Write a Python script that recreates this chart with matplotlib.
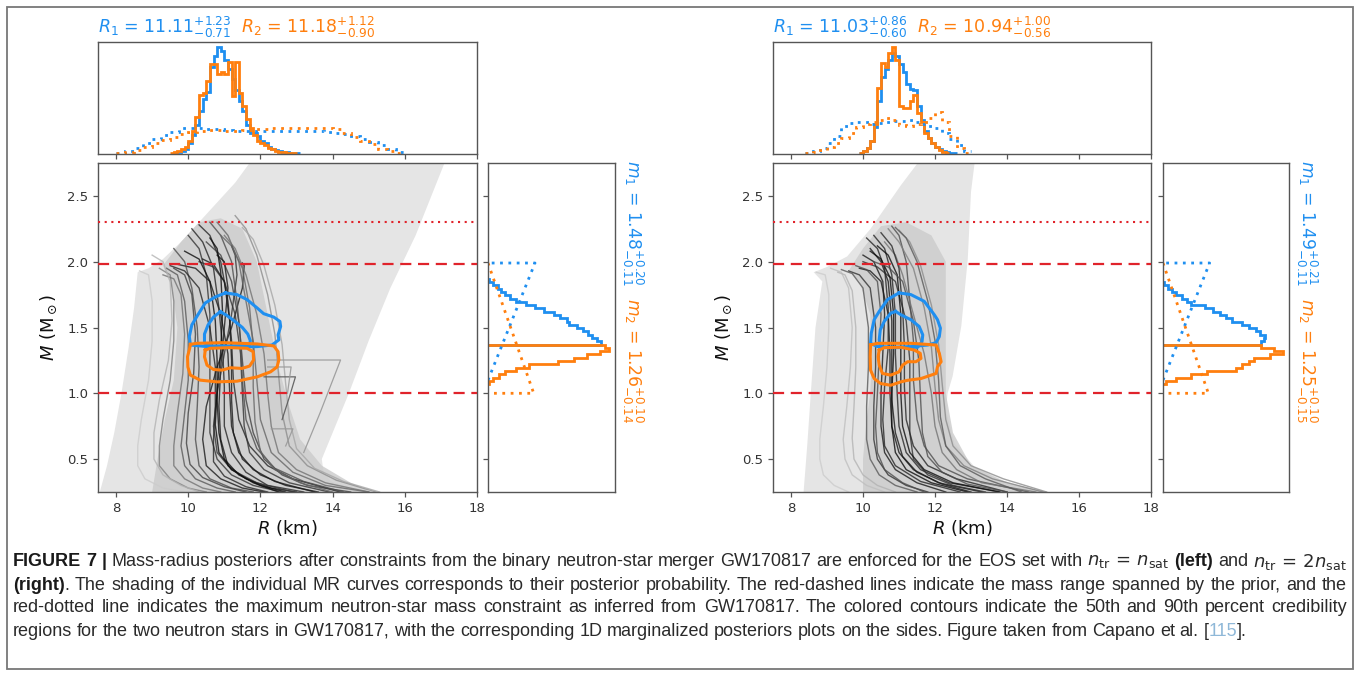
import numpy as np
import matplotlib
matplotlib.use("Agg")
import matplotlib.pyplot as plt
from matplotlib.patches import Rectangle
from matplotlib import font_manager

# ------------------------------------------------------------------ data
BLUE = "#1f8ff0"
ORANGE = "#ff7f0e"
RED = "#e0232b"

M_DASHED = [1.0, 1.98]
M_DOTTED = [2.3]

XTICKS = [8, 10, 12, 14, 16, 18]
YTICKS = [0.5, 1.0, 1.5, 2.0, 2.5]

# ---- left panel (n_tr = n_sat)
LEFT_TITLE_1 = r"$R_1$ = $11.11^{+1.23}_{-0.71}$"
LEFT_TITLE_2 = r"$R_2$ = $11.18^{+1.12}_{-0.90}$"
LEFT_MLAB_1 = r"$m_1$ = $1.48^{+0.20}_{-0.11}$"
LEFT_MLAB_2 = r"$m_2$ = $1.26^{+0.10}_{-0.14}$"

LEFT_LIGHT_R = [7.55, 7.75, 7.95, 8.15, 8.35, 8.5, 8.6, 8.9, 9.3, 9.8, 10.3, 10.8, 11.3, 11.7,
                17.1, 16.3, 15.6, 15.0, 14.45, 14.0, 13.7, 13.75, 13.95, 14.5, 15.15]
LEFT_LIGHT_M = [0.25, 0.45, 0.7, 1.0, 1.35, 1.65, 1.92, 1.95, 2.02, 2.15, 2.3, 2.45, 2.6, 2.75,
                2.75, 2.2, 1.8, 1.4, 1.0, 0.7, 0.5, 0.4, 0.33, 0.28, 0.25]
LEFT_MID_R = [9.0, 9.15, 9.35, 9.6, 9.7, 9.55, 9.3, 9.8, 10.3, 10.9, 11.5, 11.9, 12.2, 12.5,
              12.8, 13.1, 13.7, 14.5, 15.1]
LEFT_MID_M = [0.25, 0.5, 0.8, 1.1, 1.5, 1.8, 1.97, 2.15, 2.3, 2.33, 2.25, 2.0, 1.6, 1.2,
              0.9, 0.65, 0.45, 0.32, 0.25]

LEFT_CURVE_M = [
    [2.28, 2.2, 2.0, 1.7, 1.4, 1.1, 0.8, 0.6, 0.45, 0.35, 0.25],
    [1.98, 1.95, 1.85, 1.6, 1.3, 1.0, 0.75, 0.55, 0.42, 0.33, 0.25],
    [2.2, 2.1, 1.9, 1.6, 1.3, 1.0, 0.7, 0.5, 0.38, 0.3, 0.25],
    [2.1, 2.0, 1.8, 1.5, 1.2, 0.9, 0.65, 0.45, 0.35, 0.28, 0.25],
    [1.99, 1.97, 1.8, 1.5, 1.2, 0.9, 0.65, 0.45, 0.35, 0.28, 0.25],
    [2.15, 2.05, 1.85, 1.55, 1.25, 0.95, 0.7, 0.5, 0.38, 0.3, 0.25],
    [2.3, 2.2, 2.0, 1.7, 1.4, 1.1, 0.8, 0.55, 0.4, 0.3, 0.25],
    [1.95, 1.9, 1.7, 1.4, 1.1, 0.85, 0.6, 0.45, 0.35, 0.28, 0.25],
    [2.05, 2.0, 1.8, 1.5, 1.2, 0.9, 0.65, 0.45, 0.35, 0.28, 0.25],
    [2.25, 2.15, 1.95, 1.65, 1.35, 1.05, 0.75, 0.55, 0.4, 0.3, 0.25],
    [1.95, 1.9, 1.7, 1.4, 1.1, 0.8, 0.6, 0.45, 0.35, 0.28, 0.25],
    [2.2, 2.1, 1.9, 1.6, 1.3, 1.0, 0.75, 0.55, 0.42, 0.32, 0.25],
    [2.0, 1.96, 1.85, 1.6, 1.3, 1.0, 0.75, 0.55, 0.42, 0.32, 0.25],
    [2.12, 2.05, 1.9, 1.6, 1.3, 1.0, 0.75, 0.55, 0.42, 0.32, 0.25],
    [1.97, 1.93, 1.8, 1.5, 1.2, 0.9, 0.65, 0.48, 0.37, 0.29, 0.25],
    [2.35, 2.25, 2.05, 1.75, 1.45, 1.15, 0.85, 0.6, 0.45, 0.34, 0.25],
    [1.93, 1.9, 1.7, 1.4, 1.1, 0.8, 0.6, 0.45, 0.35, 0.28, 0.25],
    [2.08, 2.02, 1.85, 1.55, 1.25, 0.95, 0.7, 0.5, 0.38, 0.3, 0.25],
    [2.18, 2.1, 1.92, 1.62, 1.32, 1.02, 0.76, 0.55, 0.42, 0.32, 0.25],
    [2.02, 1.98, 1.85, 1.55, 1.25, 0.95, 0.7, 0.5, 0.38, 0.3, 0.25],
    [1.9, 1.87, 1.75, 1.45, 1.15, 0.85, 0.6, 0.45, 0.35, 0.28, 0.25],
    [2.3, 2.2, 2.0, 1.7, 1.4, 1.1, 0.8, 0.58, 0.43, 0.33, 0.25],
    [2.2, 2.12, 1.95, 1.65, 1.35, 1.05, 0.78, 0.56, 0.42, 0.32, 0.25],
    [1.95, 1.9, 1.75, 1.45, 1.15, 0.85, 0.62, 0.46, 0.36, 0.29, 0.25],
    [2.26, 2.17, 1.97, 1.67, 1.37, 1.07, 0.8, 0.58, 0.43, 0.33, 0.25],
    [2.05, 2.0, 1.85, 1.55, 1.25, 0.95, 0.7, 0.5, 0.38, 0.3, 0.25],
]
LEFT_CURVE_R = [
    [10.3, 10.6, 10.9, 11.1, 11.2, 11.25, 11.4, 11.7, 12.2, 12.9, 14.2],
    [9.7, 10.2, 10.6, 10.9, 11.1, 11.15, 11.2, 11.4, 11.8, 12.4, 13.5],
    [10.0, 10.3, 10.5, 10.6, 10.6, 10.6, 10.6, 10.8, 11.2, 11.8, 12.6],
    [9.6, 9.9, 10.1, 10.25, 10.3, 10.25, 10.2, 10.3, 10.6, 11.2, 11.8],
    [11.5, 11.55, 11.5, 11.2, 10.8, 10.5, 10.4, 10.5, 10.9, 11.5, 12.1],
    [10.5, 10.9, 11.2, 11.4, 11.5, 11.6, 11.8, 12.1, 12.6, 13.3, 14.5],
    [10.8, 11.1, 11.4, 11.6, 11.8, 11.9, 12.0, 12.3, 12.9, 13.8, 15.0],
    [9.4, 9.7, 9.9, 10.0, 10.0, 9.9, 9.8, 9.9, 10.2, 10.8, 11.3],
    [10.8, 11.0, 11.1, 11.0, 10.9, 10.85, 10.9, 11.1, 11.6, 12.3, 13.0],
    [10.1, 10.4, 10.7, 10.85, 10.95, 11.0, 11.0, 11.2, 11.6, 12.2, 13.2],
    [9.2, 9.5, 9.6, 9.6, 9.5, 9.3, 9.2, 9.2, 9.5, 10.0, 10.5],
    [11.0, 11.3, 11.6, 11.9, 12.1, 12.2, 12.3, 12.5, 13.0, 13.8, 15.0],
    [10.3, 10.7, 11.0, 11.3, 11.45, 11.5, 11.55, 11.7, 12.1, 12.8, 13.9],
    [11.2, 11.3, 11.35, 11.2, 11.0, 10.8, 10.7, 10.8, 11.2, 11.9, 12.9],
    [9.5, 9.9, 10.3, 10.6, 10.75, 10.75, 10.7, 10.7, 11.0, 11.6, 12.2],
    [11.3, 11.6, 11.9, 12.2, 12.4, 12.5, 12.6, 12.8, 13.3, 14.1, 15.2],
    [8.65, 8.9, 9.0, 9.0, 8.9, 8.7, 8.6, 8.6, 8.8, 9.3, 9.9],
    [9.9, 10.3, 10.6, 10.75, 10.8, 10.8, 10.85, 11.0, 11.4, 12.0, 12.7],
    [10.6, 10.8, 10.9, 10.95, 10.9, 10.8, 10.75, 10.85, 11.2, 11.8, 12.5],
    [10.4, 10.7, 11.0, 11.15, 11.2, 11.2, 11.25, 11.5, 12.0, 12.7, 13.6],
    [9.3, 9.6, 9.8, 9.9, 9.85, 9.7, 9.6, 9.6, 9.9, 10.4, 10.9],
    [10.6, 10.9, 11.2, 11.35, 11.45, 11.5, 11.6, 11.9, 12.4, 13.2, 14.3],
    [10.9, 11.2, 11.5, 11.7, 11.8, 11.8, 11.85, 12.0, 12.4, 13.1, 14.0],
    [9.6, 9.9, 10.1, 10.2, 10.15, 10.0, 9.95, 10.05, 10.4, 11.0, 11.6],
    [11.5, 11.8, 12.1, 12.4, 12.6, 12.7, 12.8, 13.0, 13.5, 14.3, 15.3],
    [9.0, 9.3, 9.5, 9.55, 9.45, 9.2, 9.05, 9.05, 9.3, 9.8, 10.3],
]
LEFT_CURVE_SHADE = [0.15, 0.1, 0.2, 0.3, 0.1, 0.25, 0.4, 0.35, 0.1, 0.15, 0.5, 0.45, 0.2,
                    0.2, 0.15, 0.55, 0.8, 0.05, 0.05, 0.1, 0.45, 0.3, 0.4, 0.25, 0.65, 0.7]

LEFT_STEP_R = [[12.2, 14.22, 13.65, 13.2], [12.1, 12.97, 12.8, 12.6],
               [12.2, 12.85, 12.75], [12.3, 12.9, 12.7]]
LEFT_STEP_M = [[1.253, 1.253, 0.85, 0.55], [1.125, 1.125, 0.97, 0.8],
               [1.2, 1.2, 1.0], [0.73, 0.73, 0.6]]
LEFT_STEP_SHADE = [0.6, 0.35, 0.6, 0.6]

LEFT_BLUE90_R = [11.03, 11.35, 11.63, 11.91, 12.09, 12.37, 12.54, 12.56, 12.49, 12.51, 12.32,
                 11.91, 11.17, 10.52, 10.06, 10.03, 10.10, 10.24, 10.47, 10.75, 11.03]
LEFT_BLUE90_M = [1.763, 1.75, 1.712, 1.648, 1.605, 1.579, 1.546, 1.508, 1.444, 1.406, 1.367,
                 1.355, 1.35, 1.355, 1.367, 1.431, 1.52, 1.584, 1.686, 1.732, 1.763]
LEFT_BLUE50_R = [10.89, 11.05, 11.3, 11.5, 11.65, 11.72, 11.7, 11.2, 10.6, 10.45, 10.45, 10.55,
                 10.7, 10.89]
LEFT_BLUE50_M = [1.62, 1.595, 1.545, 1.5, 1.45, 1.4, 1.365, 1.36, 1.36, 1.38, 1.45, 1.52,
                 1.58, 1.62]
LEFT_ORANGE90_R = [10.06, 10.24, 10.98, 11.91, 12.37, 12.49, 12.51, 12.46, 12.28, 11.91, 11.35,
                   10.80, 10.33, 10.06, 9.99, 9.98, 10.04, 10.06]
LEFT_ORANGE90_M = [1.372, 1.38, 1.385, 1.375, 1.36, 1.316, 1.253, 1.20, 1.163, 1.125, 1.092,
                   1.087, 1.10, 1.138, 1.20, 1.278, 1.342, 1.372]
LEFT_ORANGE50_R = [10.47, 10.61, 11.17, 11.63, 11.80, 11.81, 11.70, 11.49, 11.17, 10.94, 10.70,
                   10.52, 10.45, 10.47]
LEFT_ORANGE50_M = [1.329, 1.342, 1.347, 1.342, 1.316, 1.253, 1.207, 1.189, 1.194, 1.176, 1.181,
                   1.214, 1.278, 1.329]

LEFT_R1_START, LEFT_R1_WIDTH = 9.6, 0.1
LEFT_R1_HIST = [0.01, 0.02, 0.03, 0.05, 0.10, 0.18, 0.27, 0.40, 0.52, 0.58, 0.82, 0.92, 1.00,
                0.97, 0.88, 0.80, 0.70, 0.60, 0.50, 0.40, 0.27, 0.20, 0.20, 0.17, 0.12, 0.10,
                0.07, 0.05, 0.04, 0.03, 0.02, 0.02, 0.01, 0.01, 0.005]
LEFT_R2_START, LEFT_R2_WIDTH = 9.5, 0.1
LEFT_R2_HIST = [0.01, 0.02, 0.03, 0.05, 0.07, 0.12, 0.22, 0.35, 0.55, 0.57, 0.68, 0.84, 0.84,
                0.75, 0.77, 0.75, 0.86, 0.54, 0.86, 0.57, 0.45, 0.33, 0.24, 0.18, 0.12, 0.10,
                0.08, 0.06, 0.05, 0.03, 0.02, 0.02, 0.01, 0.01, 0.005]
LEFT_PRIOR_START, LEFT_PRIOR_WIDTH = 8.0, 0.25
LEFT_R1_PRIOR = [0.01, 0.03, 0.06, 0.10, 0.14, 0.18, 0.21, 0.24, 0.245, 0.24, 0.235, 0.23,
                 0.225, 0.22, 0.215, 0.215, 0.215, 0.215, 0.215, 0.215, 0.215, 0.215, 0.215,
                 0.21, 0.20, 0.19, 0.17, 0.14, 0.11, 0.08, 0.05, 0.02]
LEFT_R2_PRIOR = [0.005, 0.02, 0.04, 0.07, 0.10, 0.13, 0.16, 0.19, 0.21, 0.22, 0.225, 0.225,
                 0.22, 0.22, 0.225, 0.23, 0.235, 0.24, 0.245, 0.245, 0.245, 0.245, 0.245, 0.24,
                 0.23, 0.20, 0.16, 0.12, 0.09, 0.05, 0.025, 0.005]

LEFT_M1_START, LEFT_M_WIDTH = 1.37, 0.025
LEFT_M1_HIST = [0.89, 0.86, 0.82, 0.79, 0.75, 0.70, 0.64, 0.62, 0.57, 0.52, 0.44, 0.37, 0.30,
                0.22, 0.17, 0.13, 0.10, 0.08, 0.04, 0.01]
LEFT_M2_START = 1.07
LEFT_M2_HIST = [0.01, 0.04, 0.09, 0.13, 0.22, 0.32, 0.55, 0.68, 0.78, 0.88, 0.955, 0.92]

# ---- right panel (n_tr = 2 n_sat)
RIGHT_TITLE_1 = r"$R_1$ = $11.03^{+0.86}_{-0.60}$"
RIGHT_TITLE_2 = r"$R_2$ = $10.94^{+1.00}_{-0.56}$"
RIGHT_MLAB_1 = r"$m_1$ = $1.49^{+0.21}_{-0.11}$"
RIGHT_MLAB_2 = r"$m_2$ = $1.25^{+0.10}_{-0.15}$"

RIGHT_LIGHT_R = [8.35, 8.45, 8.55, 8.68, 8.87, 8.63, 9.0, 9.56, 10.21, 11.05, 11.52, 13.1,
                 13.0, 12.91, 12.73, 12.49, 12.35, 12.3, 12.54, 13.1, 14.12, 15.14]
RIGHT_LIGHT_M = [0.25, 0.6, 1.0, 1.5, 1.85, 1.92, 1.96, 2.04, 2.25, 2.58, 2.75, 2.75,
                 2.53, 2.02, 1.51, 1.13, 1.0, 0.87, 0.62, 0.44, 0.31, 0.25]
RIGHT_MID_R = [10.0, 10.0, 10.1, 10.2, 10.25, 10.2, 9.9, 9.6, 10.0, 10.5, 11.2, 11.9, 12.3,
               12.3, 12.3, 12.5, 13.0, 14.0, 15.1]
RIGHT_MID_M = [0.25, 0.5, 0.8, 1.0, 1.3, 1.6, 1.85, 1.93, 2.1, 2.27, 2.3, 2.2, 2.0,
               1.5, 1.0, 0.7, 0.45, 0.32, 0.25]

RIGHT_CURVE_M = [
    [1.95, 1.93, 1.85, 1.6, 1.3, 1.0, 0.75, 0.55, 0.42, 0.32, 0.25],
    [2.2, 2.1, 1.9, 1.6, 1.3, 1.0, 0.75, 0.55, 0.42, 0.32, 0.25],
    [2.05, 2.0, 1.85, 1.6, 1.3, 1.0, 0.75, 0.55, 0.42, 0.32, 0.25],
    [2.27, 2.2, 2.0, 1.7, 1.4, 1.1, 0.8, 0.6, 0.45, 0.35, 0.25],
    [1.93, 1.9, 1.8, 1.5, 1.2, 0.9, 0.65, 0.5, 0.38, 0.3, 0.25],
    [2.15, 2.05, 1.9, 1.6, 1.3, 1.0, 0.75, 0.55, 0.42, 0.32, 0.25],
    [2.1, 2.0, 1.85, 1.55, 1.25, 0.95, 0.7, 0.52, 0.4, 0.31, 0.25],
    [2.25, 2.15, 1.95, 1.65, 1.35, 1.05, 0.8, 0.6, 0.45, 0.35, 0.25],
    [2.0, 1.96, 1.85, 1.55, 1.25, 0.95, 0.7, 0.5, 0.38, 0.3, 0.25],
    [2.18, 2.1, 1.95, 1.65, 1.35, 1.05, 0.8, 0.6, 0.45, 0.33, 0.25],
    [1.97, 1.94, 1.85, 1.6, 1.3, 1.0, 0.75, 0.55, 0.42, 0.32, 0.25],
    [2.22, 2.12, 1.95, 1.65, 1.35, 1.05, 0.8, 0.6, 0.45, 0.35, 0.25],
    [1.92, 1.9, 1.75, 1.5, 1.2, 0.9, 0.65, 0.5, 0.38, 0.3, 0.25],
    [1.95, 1.92, 1.8, 1.5, 1.2, 0.9, 0.65, 0.5, 0.38, 0.3, 0.25],
    [2.08, 2.02, 1.88, 1.6, 1.3, 1.0, 0.75, 0.55, 0.42, 0.32, 0.25],
    [2.12, 2.05, 1.9, 1.6, 1.3, 1.0, 0.75, 0.55, 0.42, 0.32, 0.25],
    [2.24, 2.15, 1.97, 1.67, 1.37, 1.07, 0.8, 0.6, 0.45, 0.35, 0.25],
    [1.94, 1.91, 1.8, 1.5, 1.2, 0.9, 0.65, 0.5, 0.38, 0.3, 0.25],
    [2.0, 1.96, 1.85, 1.55, 1.25, 0.95, 0.7, 0.52, 0.4, 0.31, 0.25],
    [1.92, 1.9, 1.78, 1.5, 1.2, 0.9, 0.66, 0.5, 0.38, 0.3, 0.25],
    [2.26, 2.18, 2.0, 1.7, 1.4, 1.1, 0.82, 0.6, 0.45, 0.35, 0.25],
]
RIGHT_CURVE_R = [
    [9.9, 10.2, 10.5, 10.7, 10.75, 10.75, 10.8, 11.0, 11.4, 12.1, 13.3],
    [10.3, 10.6, 10.8, 10.9, 10.9, 10.95, 11.0, 11.2, 11.6, 12.4, 13.8],
    [10.0, 10.3, 10.55, 10.6, 10.55, 10.5, 10.5, 10.6, 10.9, 11.5, 12.3],
    [10.8, 11.0, 11.2, 11.3, 11.4, 11.4, 11.5, 11.7, 12.1, 12.9, 14.6],
    [9.6, 9.9, 10.2, 10.35, 10.35, 10.3, 10.3, 10.4, 10.7, 11.2, 11.8],
    [10.6, 10.9, 11.1, 11.4, 11.7, 11.9, 12.0, 12.2, 12.6, 13.3, 14.8],
    [10.2, 10.5, 10.7, 10.8, 10.8, 10.8, 10.9, 11.1, 11.5, 12.2, 13.0],
    [10.7, 11.0, 11.4, 11.7, 11.9, 12.0, 12.1, 12.3, 12.8, 13.6, 15.0],
    [10.0, 10.4, 10.9, 11.2, 11.3, 11.3, 11.3, 11.4, 11.8, 12.5, 13.4],
    [10.1, 10.4, 10.6, 10.7, 10.7, 10.6, 10.55, 10.6, 10.9, 11.6, 12.7],
    [9.8, 10.1, 10.4, 10.5, 10.45, 10.4, 10.35, 10.4, 10.6, 11.1, 11.7],
    [10.5, 10.8, 11.0, 11.1, 11.15, 11.15, 11.2, 11.4, 11.8, 12.6, 14.0],
    [8.7, 8.95, 9.05, 9.05, 9.0, 8.9, 8.8, 8.8, 8.9, 9.2, 9.6],
    [9.1, 9.4, 9.6, 9.7, 9.65, 9.55, 9.45, 9.5, 9.7, 10.1, 10.6],
    [10.2, 10.5, 10.75, 10.85, 10.85, 10.8, 10.8, 10.9, 11.2, 11.9, 12.9],
    [10.4, 10.7, 10.95, 11.05, 11.05, 11.05, 11.1, 11.3, 11.7, 12.5, 13.8],
    [11.0, 11.3, 11.6, 11.9, 12.1, 12.2, 12.3, 12.5, 13.0, 13.9, 15.1],
    [9.4, 9.7, 10.0, 10.15, 10.15, 10.1, 10.1, 10.2, 10.45, 10.9, 11.5],
    [10.3, 10.7, 11.1, 11.4, 11.55, 11.6, 11.65, 11.8, 12.2, 12.9, 14.0],
    [9.3, 9.5, 9.7, 9.8, 9.8, 9.75, 9.7, 9.75, 10.0, 10.4, 10.9],
    [10.9, 11.2, 11.5, 11.8, 12.0, 12.1, 12.15, 12.3, 12.7, 13.4, 14.4],
]
RIGHT_CURVE_SHADE = [0.1, 0.15, 0.1, 0.3, 0.2, 0.45, 0.1, 0.5, 0.2, 0.15, 0.3, 0.15, 0.8, 0.75,
                     0.05, 0.05, 0.55, 0.35, 0.3, 0.7, 0.35]

RIGHT_BLUE90_R = [11.0, 11.33, 11.70, 11.84, 11.98, 12.07, 12.15, 12.12, 12.03, 11.80, 11.33,
                  10.87, 10.40, 10.21, 10.23, 10.31, 10.45, 10.68, 11.0]
RIGHT_BLUE90_M = [1.763, 1.75, 1.699, 1.648, 1.597, 1.559, 1.495, 1.431, 1.385, 1.367, 1.355,
                  1.35, 1.355, 1.38, 1.457, 1.559, 1.622, 1.712, 1.763]
RIGHT_BLUE50_R = [10.91, 11.05, 11.33, 11.56, 11.66, 11.64, 11.52, 10.87, 10.49, 10.45, 10.48,
                  10.59, 10.77, 10.91]
RIGHT_BLUE50_M = [1.622, 1.597, 1.559, 1.508, 1.444, 1.393, 1.35, 1.347, 1.35, 1.406, 1.482,
                  1.546, 1.609, 1.622]
RIGHT_ORANGE90_R = [10.21, 10.40, 11.33, 12.03, 12.12, 12.17, 12.07, 12.03, 11.61, 11.24, 11.05,
                    10.77, 10.49, 10.31, 10.21, 10.20, 10.21]
RIGHT_ORANGE90_M = [1.367, 1.38, 1.38, 1.367, 1.304, 1.24, 1.202, 1.151, 1.112, 1.099, 1.087,
                    1.061, 1.074, 1.112, 1.176, 1.278, 1.367]
RIGHT_ORANGE50_R = [10.45, 10.59, 11.05, 11.42, 11.59, 11.61, 11.47, 11.24, 11.10, 11.0, 10.77,
                    10.54, 10.45, 10.42, 10.45]
RIGHT_ORANGE50_M = [1.329, 1.347, 1.35, 1.329, 1.304, 1.265, 1.24, 1.24, 1.214, 1.163, 1.138,
                    1.151, 1.214, 1.278, 1.329]

RIGHT_R1_START, RIGHT_R1_WIDTH = 9.9, 0.1
RIGHT_R1_HIST = [0.01, 0.03, 0.06, 0.12, 0.25, 0.50, 0.72, 0.80, 0.88, 0.95, 0.92, 0.84, 0.77,
                 0.66, 0.61, 0.60, 0.45, 0.32, 0.22, 0.15, 0.10, 0.07, 0.05, 0.03, 0.02, 0.01,
                 0.005]
RIGHT_R2_START, RIGHT_R2_WIDTH = 9.9, 0.1
RIGHT_R2_HIST = [0.01, 0.03, 0.06, 0.12, 0.28, 0.62, 0.85, 0.82, 0.95, 1.0, 0.88, 0.45, 0.43,
                 0.43, 0.50, 0.55, 0.38, 0.30, 0.20, 0.15, 0.10, 0.07, 0.04, 0.02, 0.01]
RIGHT_PRIOR_START, RIGHT_PRIOR_WIDTH = 8.4, 0.2
RIGHT_R1_PRIOR = [0.01, 0.03, 0.06, 0.10, 0.17, 0.26, 0.29, 0.30, 0.30, 0.28, 0.29, 0.30, 0.31,
                  0.31, 0.32, 0.30, 0.28, 0.26, 0.24, 0.20, 0.14, 0.08, 0.03]
RIGHT_R2_PRIOR = [0.005, 0.02, 0.04, 0.07, 0.10, 0.15, 0.20, 0.25, 0.28, 0.30, 0.32, 0.34, 0.32,
                  0.27, 0.26, 0.28, 0.30, 0.34, 0.39, 0.30, 0.17, 0.06, 0.01]

RIGHT_M1_START, RIGHT_M_WIDTH = 1.37, 0.025
RIGHT_M1_HIST = [0.78, 0.80, 0.81, 0.77, 0.74, 0.68, 0.63, 0.55, 0.50, 0.45, 0.40, 0.33, 0.22,
                 0.19, 0.15, 0.10, 0.07, 0.04, 0.01]
RIGHT_M2_START = 1.07
RIGHT_M2_HIST = [0.02, 0.10, 0.22, 0.35, 0.58, 0.63, 0.68, 0.72, 0.85, 0.95, 0.88, 0.78]

# mass priors in the side panels (triangular, drawn as dotted outlines)
PRIOR_M1_M = [1.1, 1.99, 1.99]
PRIOR_M1_X = [0.0, 0.37, 0.0]
PRIOR_M2_M = [1.99, 1.0, 1.0]
PRIOR_M2_X = [0.0, 0.36, 0.0]

CAPTION_LINES = [
    ([("FIGURE", "b"), ("7", "b"), ("|", "b"), ("Mass-radius", "n"), ("posteriors", "n"),
      ("after", "n"), ("constraints", "n"), ("from", "n"), ("the", "n"), ("binary", "n"),
      ("neutron-star", "n"), ("merger", "n"), ("GW170817", "n"), ("are", "n"), ("enforced", "n"),
      ("for", "n"), ("the", "n"), ("EOS", "n"), ("set", "n"), ("with", "n"),
      (r"$n_{\mathrm{tr}}\,=\,n_{\mathrm{sat}}$", "n"), ("(left)", "b"), ("and", "n"),
      (r"$n_{\mathrm{tr}}\,=\,2n_{\mathrm{sat}}$", "n")], True),
    ([("(right)", "b"), (".", "g"), ("The", "n"), ("shading", "n"), ("of", "n"), ("the", "n"),
      ("individual", "n"), ("MR", "n"), ("curves", "n"), ("corresponds", "n"), ("to", "n"),
      ("their", "n"), ("posterior", "n"), ("probability.", "n"), ("The", "n"), ("red-dashed", "n"),
      ("lines", "n"), ("indicate", "n"), ("the", "n"), ("mass", "n"), ("range", "n"),
      ("spanned", "n"), ("by", "n"), ("the", "n"), ("prior,", "n"), ("and", "n"), ("the", "n")], True),
    ([("red-dotted", "n"), ("line", "n"), ("indicates", "n"), ("the", "n"), ("maximum", "n"),
      ("neutron-star", "n"), ("mass", "n"), ("constraint", "n"), ("as", "n"), ("inferred", "n"),
      ("from", "n"), ("GW170817.", "n"), ("The", "n"), ("colored", "n"), ("contours", "n"),
      ("indicate", "n"), ("the", "n"), ("50th", "n"), ("and", "n"), ("90th", "n"),
      ("percent", "n"), ("credibility", "n")], True),
    ([("regions", "n"), ("for", "n"), ("the", "n"), ("two", "n"), ("neutron", "n"), ("stars", "n"),
      ("in", "n"), ("GW170817,", "n"), ("with", "n"), ("the", "n"), ("corresponding", "n"),
      ("1D", "n"), ("marginalized", "n"), ("posteriors", "n"), ("plots", "n"), ("on", "n"),
      ("the", "n"), ("sides.", "n"), ("Figure", "n"), ("taken", "n"), ("from", "n"),
      ("Capano", "n"), ("et", "n"), ("al.", "n"), ("[", "n"), ("115", "l"), ("].", "g")], False),
]

# ------------------------------------------------------------------ figure
W, H = 1360, 675
plt.rcParams["mathtext.fontset"] = "dejavusans"
fig = plt.figure(figsize=(W / 100, H / 100), dpi=100)
renderer = fig.canvas.get_renderer()

SPINE = "#555555"
TICKC = "#333333"


def px_axes(x0, y0, x1, y1):
    return fig.add_axes([x0 / W, 1 - y1 / H, (x1 - x0) / W, (y1 - y0) / H])


def style_axes(ax):
    for s in ax.spines.values():
        s.set_color(SPINE)
        s.set_linewidth(1.0)
    ax.tick_params(colors=SPINE, labelcolor=TICKC, labelsize=9.5, length=3.5, width=0.9)


def draw_main(ax, light, mid, curves_m, curves_r, shades, steps, contours):
    ax.fill(light[0], light[1], color="#e5e5e5", lw=0, zorder=1)
    ax.fill(mid[0], mid[1], color="#cbcbcb", lw=0, alpha=0.8, zorder=1.2)
    for mm, rr, sh in zip(curves_m, curves_r, shades):
        ax.plot(rr, mm, color=str(sh), lw=1.0, alpha=0.8, zorder=2)
    if steps is not None:
        for rr, mm, sh in zip(*steps):
            ax.plot(rr, mm, color=str(sh), lw=0.9, alpha=0.9, zorder=2)
    for y in M_DASHED:
        ax.axhline(y, color=RED, lw=1.6, ls=(0, (5, 3)), zorder=3)
    for y in M_DOTTED:
        ax.axhline(y, color=RED, lw=1.5, ls=(0, (1, 2.2)), zorder=3)
    for (rr, mm), c in contours:
        ax.plot(rr, mm, color=c, lw=2.2, zorder=4, solid_joinstyle="round")
    ax.set_xlim(7.5, 18)
    ax.set_ylim(0.25, 2.75)
    ax.set_xticks(XTICKS)
    ax.set_yticks(YTICKS)
    style_axes(ax)
    ax.set_xlabel(r"$R$ (km)", fontsize=13, labelpad=2, color="#111111")


def draw_top(ax, h1, h2, p1, p2):
    for (start, width, vals), c in ((h1, BLUE), (h2, ORANGE)):
        edges = start + width * np.arange(len(vals) + 1)
        ax.stairs(vals, edges, color=c, lw=2.0, baseline=None)
    for (start, width, vals), c in ((p1, BLUE), (p2, ORANGE)):
        edges = start + width * np.arange(len(vals) + 1)
        ax.stairs(vals, edges, color=c, lw=2.0, ls=(0, (1, 2)), baseline=None)
    ax.set_xlim(7.5, 18)
    ax.set_ylim(0, 1.05)
    ax.set_xticks(XTICKS)
    ax.set_xticklabels([])
    ax.set_yticks([])
    style_axes(ax)


def draw_side(ax, h1, h2):
    (s1, w, v1), (s2, v2) = h1, h2
    ax.stairs(v1, s1 + w * np.arange(len(v1) + 1), orientation="horizontal",
              color=BLUE, lw=2.0, baseline=0)
    ax.stairs(v2, s2 + w * np.arange(len(v2) + 1), orientation="horizontal",
              color=ORANGE, lw=2.0, baseline=0)
    ax.plot(PRIOR_M1_X, PRIOR_M1_M, color=BLUE, lw=2.0, ls=(0, (1, 2)))
    ax.plot(PRIOR_M2_X, PRIOR_M2_M, color=ORANGE, lw=2.0, ls=(0, (1, 2)))
    ax.set_ylim(0.25, 2.75)
    ax.set_xlim(0, 1.0)
    ax.set_yticks(YTICKS)
    ax.set_yticklabels([])
    ax.set_xticks([])
    style_axes(ax)


# ---------------- left panel
axL = px_axes(98, 163, 477, 492)
draw_main(axL, (LEFT_LIGHT_R, LEFT_LIGHT_M), (LEFT_MID_R, LEFT_MID_M),
          LEFT_CURVE_M, LEFT_CURVE_R, LEFT_CURVE_SHADE,
          (LEFT_STEP_R, LEFT_STEP_M, LEFT_STEP_SHADE),
          [((LEFT_BLUE90_R, LEFT_BLUE90_M), BLUE), ((LEFT_BLUE50_R, LEFT_BLUE50_M), BLUE),
           ((LEFT_ORANGE90_R, LEFT_ORANGE90_M), ORANGE),
           ((LEFT_ORANGE50_R, LEFT_ORANGE50_M), ORANGE)])
axL.set_ylabel(r"$M$ (M$_\odot$)", fontsize=13, labelpad=6, color="#111111")

axLt = px_axes(98, 42, 477, 154)
draw_top(axLt, (LEFT_R1_START, LEFT_R1_WIDTH, LEFT_R1_HIST),
         (LEFT_R2_START, LEFT_R2_WIDTH, LEFT_R2_HIST),
         (LEFT_PRIOR_START, LEFT_PRIOR_WIDTH, LEFT_R1_PRIOR),
         (LEFT_PRIOR_START, LEFT_PRIOR_WIDTH, LEFT_R2_PRIOR))

axLs = px_axes(488, 163, 615, 492)
draw_side(axLs, (LEFT_M1_START, LEFT_M_WIDTH, LEFT_M1_HIST), (LEFT_M2_START, LEFT_M2_HIST))

# ---------------- right panel
axR = px_axes(773, 163, 1151, 492)
draw_main(axR, (RIGHT_LIGHT_R, RIGHT_LIGHT_M), (RIGHT_MID_R, RIGHT_MID_M),
          RIGHT_CURVE_M, RIGHT_CURVE_R, RIGHT_CURVE_SHADE, None,
          [((RIGHT_BLUE90_R, RIGHT_BLUE90_M), BLUE), ((RIGHT_BLUE50_R, RIGHT_BLUE50_M), BLUE),
           ((RIGHT_ORANGE90_R, RIGHT_ORANGE90_M), ORANGE),
           ((RIGHT_ORANGE50_R, RIGHT_ORANGE50_M), ORANGE)])
axR.set_ylabel(r"$M$ (M$_\odot$)", fontsize=13, labelpad=6, color="#111111")

axRt = px_axes(773, 42, 1151, 154)
draw_top(axRt, (RIGHT_R1_START, RIGHT_R1_WIDTH, RIGHT_R1_HIST),
         (RIGHT_R2_START, RIGHT_R2_WIDTH, RIGHT_R2_HIST),
         (RIGHT_PRIOR_START, RIGHT_PRIOR_WIDTH, RIGHT_R1_PRIOR),
         (RIGHT_PRIOR_START, RIGHT_PRIOR_WIDTH, RIGHT_R2_PRIOR))

axRs = px_axes(1163, 163, 1289, 492)
draw_side(axRs, (RIGHT_M1_START, RIGHT_M_WIDTH, RIGHT_M1_HIST), (RIGHT_M2_START, RIGHT_M2_HIST))

# ---------------- titles and side labels
for x, t1, t2 in ((98, LEFT_TITLE_1, LEFT_TITLE_2), (773, RIGHT_TITLE_1, RIGHT_TITLE_2)):
    a = fig.text(x / W, 1 - 40 / H, t1, color=BLUE, fontsize=12.5, ha="left", va="bottom")
    x_end = a.get_window_extent(renderer).x1
    fig.text((x_end + 10) / W, 1 - 40 / H, t2, color=ORANGE, fontsize=12.5,
             ha="left", va="bottom")

for x, t1, t2 in ((633, LEFT_MLAB_1, LEFT_MLAB_2), (1307, RIGHT_MLAB_1, RIGHT_MLAB_2)):
    a = fig.text(x / W, 1 - 160 / H, t1, color=BLUE, fontsize=12.3, rotation=270,
                 ha="center", va="top")
    y_end = a.get_window_extent(renderer).y0
    fig.text(x / W, (y_end - 12) / H, t2, color=ORANGE, fontsize=12.3, rotation=270,
             ha="center", va="top")

# ---------------- frame
fig.add_artist(Rectangle((7 / W, 1 - 669 / H), (1353 - 7) / W, (669 - 7) / H,
                         transform=fig.transFigure, fill=False, ec="#777777", lw=1.3))

# ---------------- caption
avail = {f.name for f in font_manager.fontManager.ttflist}
CAP_FONT = "Liberation Sans Narrow" if "Liberation Sans Narrow" in avail else "Liberation Sans"
CAP_COL = {"n": "#2a2a2a", "b": "#1a1a1a", "g": "#2a2a2a", "l": "#8fb8d8"}


def make_tokens(tokens, fs, y):
    objs = []
    for txt, st in tokens:
        t = fig.text(0, y, txt, fontsize=fs, family=CAP_FONT, color=CAP_COL[st],
                     fontweight="bold" if st == "b" else "normal", ha="left", va="center")
        objs.append(t)
    return objs


def line_widths(objs):
    return [o.get_window_extent(renderer).width for o in objs]


X0, X1 = 13, 1347
fs0 = 10.0
probe = make_tokens(CAPTION_LINES[0][0], fs0, 0.5)
wsum = sum(line_widths(probe))
for o in probe:
    o.remove()
sp_frac = 0.26  # space width in em
n_gaps = len(CAPTION_LINES[0][0]) - 1
fs = fs0 * (X1 - X0) / (wsum + n_gaps * sp_frac * fs0 * 100 / 72)

for i, (tokens, justify) in enumerate(CAPTION_LINES):
    y = 1 - (562 + 23 * i) / H
    objs = make_tokens(tokens, fs, y)
    ws = line_widths(objs)
    glue = [st == "g" or (j > 0 and tokens[j - 1][0] == "[") for j, (txt, st) in enumerate(tokens)]
    glue[0] = True
    n_sp = sum(1 for g in glue[1:] if not g)
    natural_sp = sp_frac * fs * 100 / 72
    if justify and n_sp > 0:
        sp = (X1 - X0 - sum(ws)) / n_sp
    else:
        sp = natural_sp
    x = X0
    for j, (o, w) in enumerate(zip(objs, ws)):
        if j > 0 and not glue[j]:
            x += sp
        o.set_x(x / W)
        x += w

fig.savefig("out.png", dpi=100)
